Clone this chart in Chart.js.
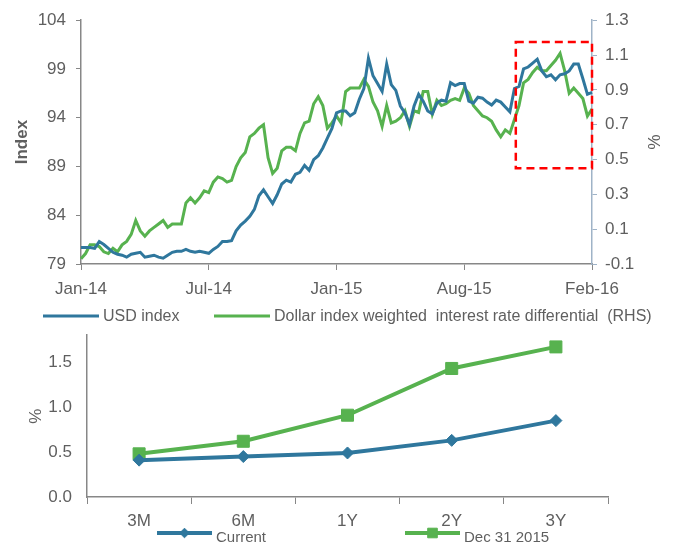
<!DOCTYPE html>
<html>
<head>
<meta charset="utf-8">
<script src="https://cdn.jsdelivr.net/npm/chart.js@4.4.1/dist/chart.umd.min.js"></script>
<style>
  html, body { margin: 0; padding: 0; background: #fff; overflow: hidden; }
  #wrap { position: relative; width: 675px; height: 542px; overflow: hidden; }
  #topChart { position: absolute; left: 0; top: 0; }
  #bottomChart { position: absolute; left: 0; top: 310px; }
</style>
</head>
<body>
<div id="wrap">
  <canvas id="topChart" width="675" height="330"></canvas>
  <canvas id="bottomChart" width="675" height="250"></canvas>
</div>
<script>
// weekly data, Jan-14 .. Feb-16
const tickLabels = ['Jan-14', 'Jul-14', 'Jan-15', 'Aug-15', 'Feb-16'];
const tickEvery = 28;

const usdIndex = [
  80.7, 80.7, 80.7, 80.6, 81.3, 81.0, 80.6, 80.2, 80.0, 79.9,
  79.7, 80.0, 80.1, 80.2, 79.7, 79.8, 79.9, 79.7, 79.6, 79.9,
  80.2, 80.3, 80.3, 80.5, 80.3, 80.2, 80.3, 80.2, 80.1, 80.5,
  80.8, 81.3, 81.3, 81.4, 82.4, 83.0, 83.4, 83.9, 84.6, 86.0,
  86.6, 85.9, 85.2, 86.1, 87.2, 87.6, 87.4, 88.2, 88.4, 89.1,
  88.6, 89.7, 90.1, 90.9, 91.9, 92.9, 94.5, 94.7, 94.7, 94.2,
  94.5, 95.9, 97.0, 100.1, 98.3, 97.5, 96.7, 99.5, 97.4, 96.8,
  95.2, 94.5, 93.3, 95.2, 96.4, 95.7, 94.7, 94.4, 95.5, 95.8,
  95.7, 97.6, 97.3, 97.5, 97.5, 95.7, 95.5, 96.1, 96.0, 95.6,
  95.3, 95.8, 95.6, 95.1, 94.6, 97.0, 97.2, 99.0, 99.2, 99.6,
  100.0, 98.8, 98.2, 98.4, 97.9, 98.4, 98.5, 98.8, 99.5, 99.5,
  98.0, 96.4, 96.6
];

const rateDiff = [
  -0.07, -0.04, 0.01, 0.01, 0.00, -0.03, -0.04, -0.01, -0.03, 0.01,
  0.03, 0.07, 0.15, 0.09, 0.06, 0.09, 0.11, 0.13, 0.15, 0.11,
  0.13, 0.13, 0.13, 0.25, 0.28, 0.25, 0.28, 0.32, 0.31, 0.37,
  0.40, 0.39, 0.37, 0.38, 0.46, 0.51, 0.54, 0.63, 0.65, 0.68,
  0.70, 0.51, 0.42, 0.45, 0.55, 0.57, 0.57, 0.55, 0.65, 0.71,
  0.72, 0.82, 0.86, 0.81, 0.68, 0.71, 0.75, 0.71, 0.89, 0.91,
  0.91, 0.91, 0.96, 0.92, 0.83, 0.78, 0.69, 0.81, 0.71, 0.72,
  0.74, 0.78, 0.69, 0.78, 0.77, 0.89, 0.89, 0.76, 0.84, 0.81,
  0.82, 0.84, 0.85, 0.84, 0.91, 0.88, 0.81, 0.78, 0.75, 0.74,
  0.72, 0.67, 0.63, 0.67, 0.65, 0.73, 0.81, 0.94, 0.96, 1.00,
  1.03, 1.01, 1.01, 1.04, 1.07, 1.11, 1.01, 0.88, 0.91, 0.88,
  0.85, 0.75, 0.79
];

// dashed box (x in week index, y on the right axis)
const boxFrom = 95.3, boxTo = 112, boxTop = 1.175, boxBottom = 0.45;

const tenors = ['3M', '6M', '1Y', '2Y', '3Y'];
const current = [0.41, 0.45, 0.49, 0.63, 0.85];
const dec2015 = [0.48, 0.62, 0.91, 1.43, 1.67];

const weeks = usdIndex.map((v, i) => i);

const blue = '#2f779d';
const green = '#57b24f';
const axisGrey = '#878787';
const textGrey = '#5f5f5f';
const fontFamily = "'Liberation Sans', Arial, sans-serif";

Chart.defaults.font.family = fontFamily;
Chart.defaults.color = textGrey;

// legend with a line (and marker) per series
const lineLegend = {
  id: 'lineLegend',
  afterDraw(chart, args, opts) {
    const ctx = chart.ctx;
    ctx.save();
    ctx.font = opts.fontSize + 'px ' + fontFamily;
    ctx.textBaseline = 'middle';
    chart.data.datasets.forEach((ds, i) => {
      const x = opts.x[i];
      ctx.strokeStyle = ds.borderColor;
      ctx.fillStyle = ds.borderColor;
      ctx.lineWidth = ds.borderWidth;
      ctx.beginPath();
      ctx.moveTo(x, opts.y);
      ctx.lineTo(x + opts.len, opts.y);
      ctx.stroke();
      if (ds.pointRadius) {
        ctx.lineWidth = 1;
        Chart.helpers.drawPoint(ctx, {pointStyle: ds.pointStyle, radius: ds.pointRadius * 0.8, borderWidth: 1}, x + opts.len / 2, opts.y);
      }
      ctx.fillStyle = textGrey;
      ctx.fillText(ds.label, x + opts.len + 4, opts.y + opts.textDy);
    });
    ctx.restore();
  }
};

const dashBox = {
  id: 'dashBox',
  afterDraw(chart) {
    const x = chart.scales.x, y = chart.scales.y1;
    const ctx = chart.ctx;
    ctx.save();
    ctx.strokeStyle = '#ff0000';
    ctx.lineWidth = 2.5;
    ctx.setLineDash([8, 5]);
    const l = x.getPixelForValue(boxFrom), r = x.getPixelForValue(boxTo);
    const t = y.getPixelForValue(boxTop), b = y.getPixelForValue(boxBottom);
    ctx.strokeRect(l, t, r - l, b - t);
    ctx.restore();
  }
};

new Chart(document.getElementById('topChart'), {
  type: 'line',
  data: {
    labels: weeks,
    datasets: [
      {
        label: 'USD index',
        data: usdIndex,
        yAxisID: 'y',
        borderColor: blue,
        backgroundColor: blue,
        borderWidth: 3,
        pointRadius: 0,
        tension: 0
      },
      {
        label: 'Dollar index weighted  interest rate differential  (RHS)',
        data: rateDiff,
        yAxisID: 'y1',
        borderColor: green,
        backgroundColor: green,
        borderWidth: 3,
        pointRadius: 0,
        tension: 0
      }
    ]
  },
  options: {
    responsive: false,
    animation: false,
    layout: { padding: { top: 19, bottom: 26, left: 0, right: 0 } },
    plugins: {
      legend: { display: false },
      tooltip: { enabled: false },
      lineLegend: { x: [43, 214], y: 316, len: 56, textDy: 1, fontSize: 16 }
    },
    scales: {
      x: {
        offset: false,
        grid: { drawOnChartArea: false, color: axisGrey, tickLength: 6 },
        border: { color: axisGrey, width: 1.5 },
        ticks: {
          autoSkip: false, maxRotation: 0, padding: 9,
          font: { size: 17 },
          callback: (v) => tickLabels[v / tickEvery]
        },
        afterBuildTicks: (axis) => { axis.ticks = axis.ticks.filter(t => t.value % tickEvery === 0); },
        afterFit: (axis) => { axis.height = 40; }
      },
      y: {
        position: 'left',
        min: 79, max: 104,
        grid: { drawOnChartArea: false, color: axisGrey, tickLength: 5 },
        border: { color: axisGrey, width: 1.5 },
        ticks: { stepSize: 5, padding: 10, font: { size: 17 } },
        title: { display: true, text: 'Index', font: { size: 17, weight: 'bold' }, color: textGrey, padding: { top: 12, bottom: 0 } },
        afterFit: (axis) => { axis.width = 81; }
      },
      y1: {
        position: 'right',
        min: -0.1, max: 1.3,
        grid: { drawOnChartArea: false, color: '#9fb3c7', tickLength: 5 },
        border: { color: '#9fb3c7', width: 1.5 },
        ticks: { stepSize: 0.2, padding: 8, font: { size: 17 }, callback: (v) => v.toFixed(1) },
        title: { display: true, text: '%', font: { size: 17 }, color: textGrey, padding: { top: 12, bottom: 0 } },
        afterFit: (axis) => { axis.width = 83; }
      }
    }
  },
  plugins: [dashBox, lineLegend]
});

new Chart(document.getElementById('bottomChart'), {
  type: 'line',
  data: {
    labels: tenors,
    datasets: [
      {
        label: 'Current',
        data: current,
        borderColor: blue,
        backgroundColor: blue,
        borderWidth: 4,
        pointStyle: 'rectRot',
        pointRadius: 6,
        pointBorderWidth: 1,
        tension: 0
      },
      {
        label: 'Dec 31 2015',
        data: dec2015,
        borderColor: green,
        backgroundColor: green,
        borderWidth: 4,
        pointStyle: 'rect',
        pointRadius: 8.5,
        pointBorderWidth: 1,
        tension: 0
      }
    ]
  },
  options: {
    responsive: false,
    animation: false,
    layout: { padding: { top: 15, bottom: 23, left: 0, right: 67 } },
    plugins: {
      legend: { display: false },
      tooltip: { enabled: false },
      lineLegend: { x: [157, 405], y: 223, len: 55, textDy: 5, fontSize: 15 }
    },
    scales: {
      x: {
        offset: true,
        grid: { offset: true, drawOnChartArea: false, color: axisGrey, tickLength: 7 },
        border: { color: axisGrey, width: 1.5 },
        ticks: { maxRotation: 0, padding: 7, font: { size: 17 } },
        afterFit: (axis) => { axis.height = 40; }
      },
      y: {
        min: 0, max: 1.8,
        grid: { drawOnChartArea: false, drawTicks: false },
        border: { color: axisGrey, width: 1.5 },
        ticks: { stepSize: 0.5, padding: 15, font: { size: 17 }, callback: (v) => v.toFixed(1) },
        afterBuildTicks: (axis) => { axis.ticks = axis.ticks.filter(t => Math.abs(t.value * 2 - Math.round(t.value * 2)) < 1e-6); },
        title: { display: true, text: '%', font: { size: 17 }, color: textGrey, padding: { top: 26, bottom: 0 } },
        afterFit: (axis) => { axis.width = 87; }
      }
    }
  },
  plugins: [lineLegend]
});
</script>
</body>
</html>
